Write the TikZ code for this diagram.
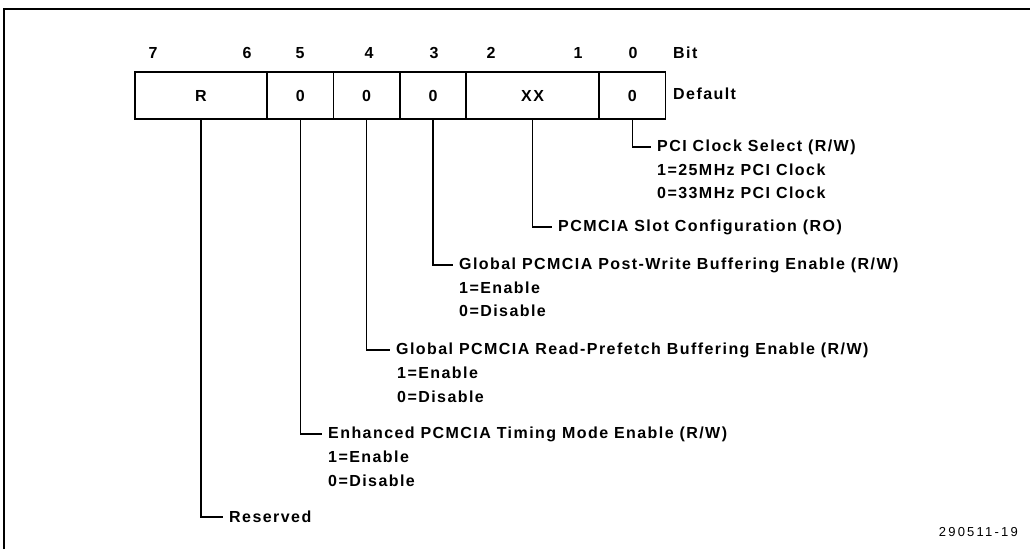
\documentclass[tikz,border=0pt]{standalone}
\usepackage{fontspec}
\setmainfont{Liberation Sans}[LetterSpace=9]
\newfontfamily\numfont{Liberation Sans}[LetterSpace=17]
\begin{document}
\begin{tikzpicture}[x=1pt,y=-1pt,
  txt/.style={font=\fontsize{16}{18}\bfseries\selectfont},
  cell/.style={txt,draw,line width=1.5pt,minimum height=47pt,inner sep=0pt},
  bitnum/.style={txt,inner sep=0pt},
  lbl/.style={txt,anchor=west,inner sep=0pt,inner xsep=6pt},
  sub/.style={txt,anchor=west,inner sep=0pt},
  conn/.style={line width=1.4pt}]
\useasboundingbox (0,0) rectangle (1030,549);
% frame
\draw[line width=1.3pt] (4,549) -- (4,9) -- (1030,9);
% register cells
\node[cell,minimum width=132pt] (cR) at (201,95.5) {R};
\node[cell,minimum width=66.4pt] (c5) at (300.2,95.5) {0};
\node[cell,minimum width=66.4pt] (c4) at (366.6,95.5) {0};
\node[cell,minimum width=66.4pt] (c3) at (433,95.5) {0};
\node[cell,minimum width=132.8pt] (cX) at (532.6,95.5) {XX};
\node[cell,minimum width=66.4pt] (c0) at (632.2,95.5) {0};
% bit numbers
\node[bitnum] (b7) at (153,53) {7};
\node[bitnum] (b6) at (247,53) {6};
\node[bitnum] (b5) at (300,53) {5};
\node[bitnum] (b4) at (369,53) {4};
\node[bitnum] (b3) at (434,53) {3};
\node[bitnum] (b2) at (491,53) {2};
\node[bitnum] (b1) at (578,53) {1};
\node[bitnum] (b0) at (633,53) {0};
\node[sub] (bit) at (673,53) {Bit};
\node[sub] (def) at (673,94) {Default};
% labels
\node[lbl] (l0) at (651,147) {PCI Clock Select (R/W)};
\node[sub] (l0a) at (657,170) {1=25MHz PCI Clock};
\node[sub] (l0b) at (657,193) {0=33MHz PCI Clock};
\node[lbl] (lX) at (552,227) {PCMCIA Slot Configuration (RO)};
\node[lbl] (l3) at (453,265) {Global PCMCIA Post-Write Buffering Enable (R/W)};
\node[sub] (l3a) at (459,288) {1=Enable};
\node[sub] (l3b) at (459,311) {0=Disable};
\node[lbl] (l4) at (390,350) {Global PCMCIA Read-Prefetch Buffering Enable (R/W)};
\node[sub] (l4a) at (397,373) {1=Enable};
\node[sub] (l4b) at (397,397) {0=Disable};
\node[lbl] (l5) at (322,434) {Enhanced PCMCIA Timing Mode Enable (R/W)};
\node[sub] (l5a) at (328,457) {1=Enable};
\node[sub] (l5b) at (328,481) {0=Disable};
\node[lbl] (lR) at (223,517) {Reserved};
\node[inner sep=0pt,anchor=east,font=\numfont\fontsize{13}{15}\selectfont] (fig) at (1018,532) {290511-19};
% connectors
\draw[conn] (c0.south) |- (l0.west);
\draw[conn] (cX.south) |- (lX.west);
\draw[conn] (c3.south) |- (l3.west);
\draw[conn] (c4.south) |- (l4.west);
\draw[conn] (c5.south) |- (l5.west);
\draw[conn] (cR.south) |- (lR.west);
\end{tikzpicture}
\end{document}
